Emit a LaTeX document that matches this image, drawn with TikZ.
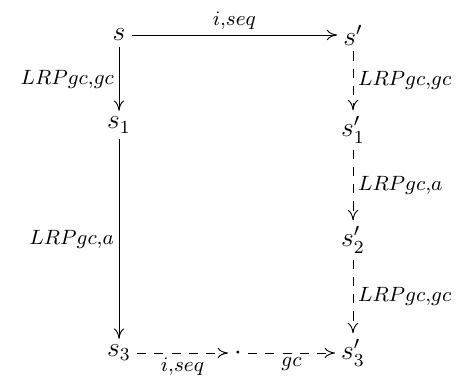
\documentclass[tikz,border=0pt]{standalone}
\usepackage{amsmath}
\usepackage{amssymb}
\usepackage{tikz}
\usetikzlibrary{arrows.meta}

\begin{document}
\begin{tikzpicture}[
  x=0.435pt, y=-0.435pt,
  >={Computer Modern Rightarrow[length=4.5pt,width=4.5pt]},
  st/.style={inner sep=2.5pt, font=\large},
  lbl/.style={font=\small, inner sep=2pt},
  arr/.style={->, line width=0.4pt},
  darr/.style={->, line width=0.4pt, dash pattern=on 4pt off 3.5pt},
]
\useasboundingbox (0,0) rectangle (476,380);

%% ─── States ──────────────────────────────────────────────────────────────────
\node[st] (s)       at (119,35)  {$s$};
\node[st] (sp)      at (353,35)  {$s'$};
\node[st] (sone)    at (119,125) {$s_1$};
\node[st] (spone)   at (353,130) {$s'_1$};
\node[st] (sptwo)   at (353,240) {$s'_2$};
\node[st] (sthree)  at (119,353) {$s_3$};
\node[st] (dot)     at (238,353) {$\cdot$};
\node[st] (spthree) at (353,353) {$s'_3$};

%% ─── Left column and top row ─────────────────────────────────────────────────
\draw[arr] (s) -- (sp) node[lbl,above,midway]{$i{,}seq$};
\draw[arr] (s) -- (sone) node[lbl,left,midway]{$LRPgc{,}gc$};
\draw[arr] (sone) -- (sthree) node[lbl,left,midway]{$LRPgc{,}a$};

%% ─── Right column (dashed) ───────────────────────────────────────────────────
\draw[darr] (sp) -- (spone) node[lbl,right,midway]{$LRPgc{,}gc$};
\draw[darr] (spone) -- (sptwo) node[lbl,right,midway]{$LRPgc{,}a$};
\draw[darr] (sptwo) -- (spthree) node[lbl,right,midway]{$LRPgc{,}gc$};

%% ─── Bottom row (dashed) ─────────────────────────────────────────────────────
\draw[darr] (sthree) -- (dot) node[lbl,below,midway]{$i{,}seq$};
\draw[darr] (dot) -- (spthree) node[lbl,below,midway]{$gc$};

\end{tikzpicture}
\end{document}
